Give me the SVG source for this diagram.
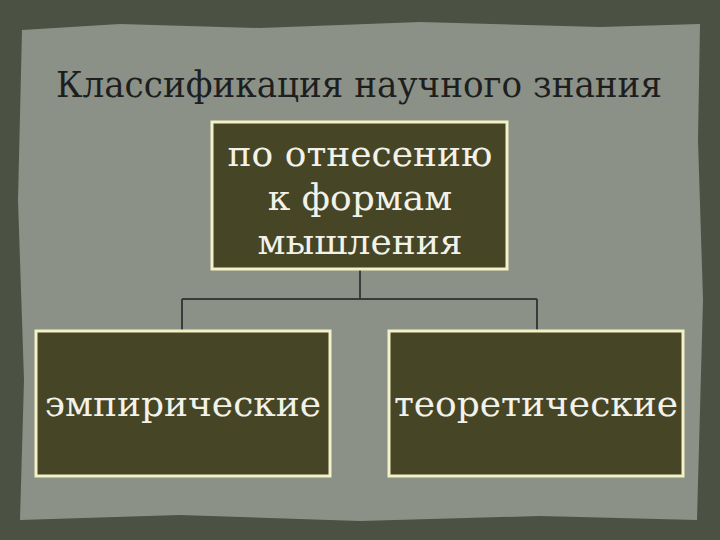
<svg xmlns="http://www.w3.org/2000/svg" width="720" height="540" viewBox="0 0 720 540">
<style>
.box{fill:#464626;stroke:#f4f1c8;stroke-width:3}
.t{font-family:"DejaVu Serif","Liberation Serif",serif;fill:#f2f2ea;font-size:36px;text-anchor:middle}
.c{stroke:#3a3a3a;stroke-width:2;fill:none}
</style>
<rect width="720" height="540" fill="#4b5143"/>
<path d="M22 30 L120 24 L260 28 L420 22 L600 27 L700 24 L698 140 L703 300 L697 520 L540 516 L360 521 L180 515 L20 520 L24 380 L18 200 Z" fill="#8b9187"/>
<text x="359" y="97" font-family="'DejaVu Serif','Liberation Serif',serif" font-size="35" fill="#1e1e1e" text-anchor="middle" textLength="606" lengthAdjust="spacingAndGlyphs">Классификация научного знания</text>
<g id="connectors">
<path class="c" d="M360 269 V299 M182 299 H537 M182 299 V331 M537 299 V331"/>
</g>
<g id="top"><rect class="box" x="212" y="122" width="295" height="147"/>
<text class="t" x="360" y="166">по отнесению</text><text class="t" x="360" y="210">к формам</text><text class="t" x="360" y="254">мышления</text></g>
<g id="emp"><rect class="box" x="36" y="331" width="294" height="145"/><text class="t" x="183" y="416">эмпирические</text></g>
<g id="theo"><rect class="box" x="389" y="331" width="294" height="145"/><text class="t" x="536" y="416">теоретические</text></g>
</svg>
